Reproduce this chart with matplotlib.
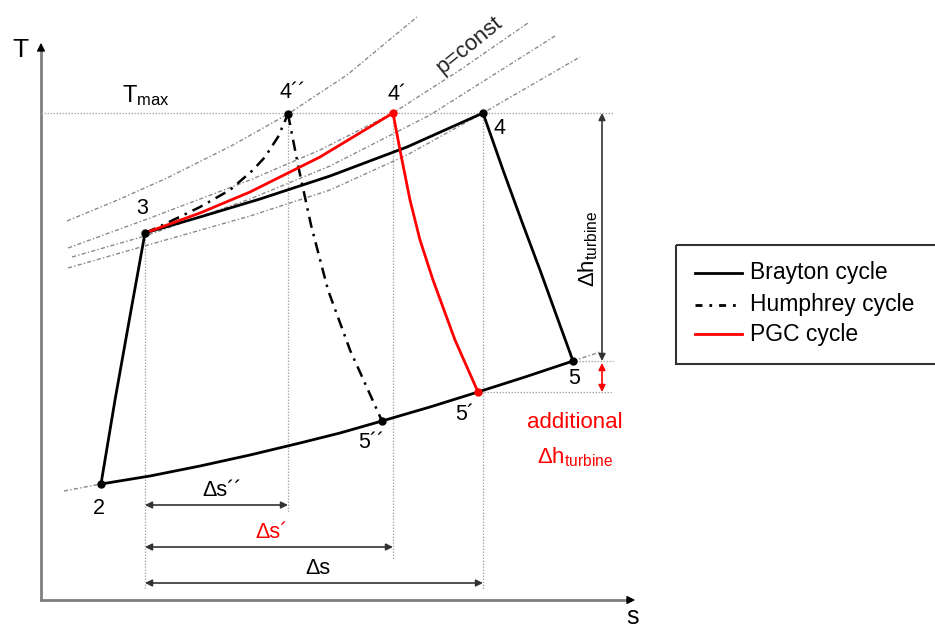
import matplotlib
matplotlib.use("Agg")
from matplotlib import pyplot as plt

plt.rcParams['font.family'] = ['Liberation Sans', 'DejaVu Sans']
plt.rcParams['mathtext.fontset'] = 'custom'
plt.rcParams['mathtext.rm'] = 'Liberation Sans'
plt.rcParams['mathtext.it'] = 'Liberation Sans:italic'

# DADOS (coordenadas do esquema T-s, eixo T para baixo como na imagem)
# processo 2-5 (isobara inferior, comum aos tres ciclos)
low_x = [101, 150, 200, 250, 300, 340, 382, 430, 478, 525, 573]
low_y = [484, 476, 466, 455, 443, 433, 421, 407, 392, 377, 361]
low_ext_x = [[64, 101], [573, 600]]
low_ext_y = [[491, 484], [361, 352]]

# compressor 2-3
comp_x = [101, 115, 130, 145]
comp_y = [484, 400, 316, 233]

# Brayton 3-4 e 4-5
bray_add_x = [145, 200, 260, 330, 407, 483]
bray_add_y = [233, 217, 199, 176, 147, 113]
bray_exp_x = [483, 503, 522, 540, 557, 573]
bray_exp_y = [113, 170, 222, 270, 317, 361]

# Humphrey 3-4'' e 4''-5''
hum_add_x = [145, 165, 200, 230, 253, 265, 278, 288]
hum_add_y = [233, 224, 207, 190, 170, 157, 137, 114]
hum_exp_x = [288, 298, 311, 328, 350, 382]
hum_exp_y = [114, 165, 225, 290, 350, 421]

# PGC 3-4' e 4'-5'
pgc_add_x = [145, 200, 250, 320, 393]
pgc_add_y = [233, 213, 192, 157, 113]
pgc_exp_x = [393, 400, 410, 420, 433, 455, 478]
pgc_exp_y = [113, 150, 200, 240, 280, 340, 392]

# isobaras p=const
iso_x = [[67, 120, 167, 233, 288, 347, 417],
         [68, 150, 250, 320, 393, 460, 528],
         [72, 145, 250, 330, 430, 555],
         [68, 148, 250, 330, 407, 483, 580]]
iso_y = [[221, 199, 178, 145, 114, 75, 17],
         [248, 218, 180, 150, 113, 70, 23],
         [257, 236, 199, 166, 115, 36],
         [268, 245, 216, 190, 155, 113, 57]]

# pontos de estado
pt_black_x = [101, 145, 288, 483, 573, 382]
pt_black_y = [484, 233, 114, 113, 361, 421]
pt_red_x = [393, 478]
pt_red_y = [113, 392]

T_max = 113
T_5 = 361
T_5p = 392
s_3 = 145
s_4pp = 288
s_4p = 393
s_4 = 483

fig = plt.figure(figsize=(9.35, 6.3), dpi=100)
ax = fig.add_axes([0, 0, 1, 1])
ax.set_xlim(0, 935)
ax.set_ylim(630, 0)
ax.axis('off')

# EIXOS
ax.plot([41, 41], [600, 48], color='#7f7f7f', lw=2)
ax.plot([41, 630], [600, 600], color='#7f7f7f', lw=2)
ax.annotate("", xy=(41, 40), xytext=(41, 52),
            arrowprops=dict(arrowstyle='-|>', color='black', lw=1, mutation_scale=12))
ax.annotate("", xy=(638, 600), xytext=(626, 600),
            arrowprops=dict(arrowstyle='-|>', color='black', lw=1, mutation_scale=12))
ax.text(20, 50, "T", fontsize=19, ha='center', va='center')
ax.text(633, 617, "s", fontsize=18, ha='center', va='center')

# linhas auxiliares pontilhadas
aux = dict(color='#a8a8a8', lw=0.9, ls=(0, (1.2, 1.2)))
ax.plot([41, 613], [T_max, T_max], **aux)
ax.plot([573, 613], [T_5, T_5], **aux)
ax.plot([478, 613], [T_5p, T_5p], **aux)
ax.plot([s_3, s_3], [233, 590], **aux)
ax.plot([s_4pp, s_4pp], [114, 513], **aux)
ax.plot([s_4p, s_4p], [113, 560], **aux)
ax.plot([s_4, s_4], [113, 590], **aux)

# isobaras
iso = dict(color='#8a8a8a', lw=1, ls=(0, (3, 1.6, 1, 1.6)))
for xs, ys in zip(iso_x, iso_y):
    ax.plot(xs, ys, **iso)
for xs, ys in zip(low_ext_x, low_ext_y):
    ax.plot(xs, ys, **iso)
ax.text(470, 45, "p=const", fontsize=16, rotation=39, ha='center', va='center', color='#222222')

# CICLOS
ax.plot(low_x, low_y, color='black', lw=2)
ax.plot(comp_x, comp_y, color='black', lw=2)
ax.plot(bray_add_x, bray_add_y, color='black', lw=2)
ax.plot(bray_exp_x, bray_exp_y, color='black', lw=2)
hum_ls = (0, (4.5, 2.5, 1, 2.5))
ax.plot(hum_add_x, hum_add_y, color='black', lw=1.8, ls=hum_ls)
ax.plot(hum_exp_x, hum_exp_y, color='black', lw=1.8, ls=hum_ls)
ax.plot(pgc_add_x, pgc_add_y, color='#ff0000', lw=2)
ax.plot(pgc_exp_x, pgc_exp_y, color='#ff0000', lw=2)

ax.plot(pt_black_x, pt_black_y, 'o', color='black', ms=5, zorder=5)
ax.plot(pt_red_x, pt_red_y, 'o', color='#ff0000', ms=5, zorder=5)

# rotulos dos pontos
lab = dict(fontsize=15.5, va='center')
ax.text(99, 508, "2", ha='center', **lab)
ax.text(142, 209, "3", ha='center', **lab)
ax.text(279, 93, "4´´", ha='left', **lab)
ax.text(388, 95, "4´", ha='left', **lab)
ax.text(499, 129, "4", ha='center', **lab)
ax.text(574, 378, "5", ha='center', **lab)
ax.text(455, 414, "5´", ha='left', **lab)
ax.text(358, 442, "5´´", ha='left', **lab)
ax.text(122, 96, "T$_{\\mathrm{max}}$", fontsize=17, ha='left', va='center')

# SETAS DE COTA
dim = dict(arrowstyle='<|-|>', color='#333333', lw=1.2, mutation_scale=10, shrinkA=0, shrinkB=0)
ax.annotate("", xy=(602, T_max), xytext=(602, T_5), arrowprops=dim)
ax.text(588, 249, "Δh$_{\\mathrm{turbine}}$", fontsize=16, rotation=90, ha='center', va='center')
ax.annotate("", xy=(602, T_5 + 2), xytext=(602, T_5p),
            arrowprops=dict(dim, color='#ff0000'))
ax.text(575, 423, "additional", fontsize=16, color='#ff0000', ha='center', va='center')
ax.text(575, 457, "Δh$_{\\mathrm{turbine}}$", fontsize=16, color='#ff0000', ha='center', va='center')

ax.annotate("", xy=(s_3, 505), xytext=(s_4pp, 505), arrowprops=dim)
ax.text(222, 490, "Δs´´", fontsize=15.5, ha='center', va='center')
ax.annotate("", xy=(s_3, 547), xytext=(s_4p, 547), arrowprops=dim)
ax.text(272, 532, "Δs´", fontsize=15.5, color='#ff0000', ha='center', va='center')
ax.annotate("", xy=(s_3, 583), xytext=(s_4, 583), arrowprops=dim)
ax.text(318, 569, "Δs", fontsize=15.5, ha='center', va='center')

# LEGENDA (desenhada a mao)
ax.add_patch(plt.Rectangle((676, 245), 270, 119, fill=False, ec='#333333', lw=1.5))
leg_labels = ["Brayton cycle", "Humphrey cycle", "PGC cycle"]
leg_colors = ['black', 'black', '#ff0000']
leg_ls = ['-', (0, (2.5, 2.5, 1, 2.5)), '-']
leg_y = [273, 305, 334]
for texto, cor, estilo, y in zip(leg_labels, leg_colors, leg_ls, leg_y):
    ax.plot([695, 742], [y, y], color=cor, lw=2, ls=estilo)
    ax.text(750, y, texto, fontsize=16.5, ha='left', va='center')

fig.savefig("out.png", dpi=100)
